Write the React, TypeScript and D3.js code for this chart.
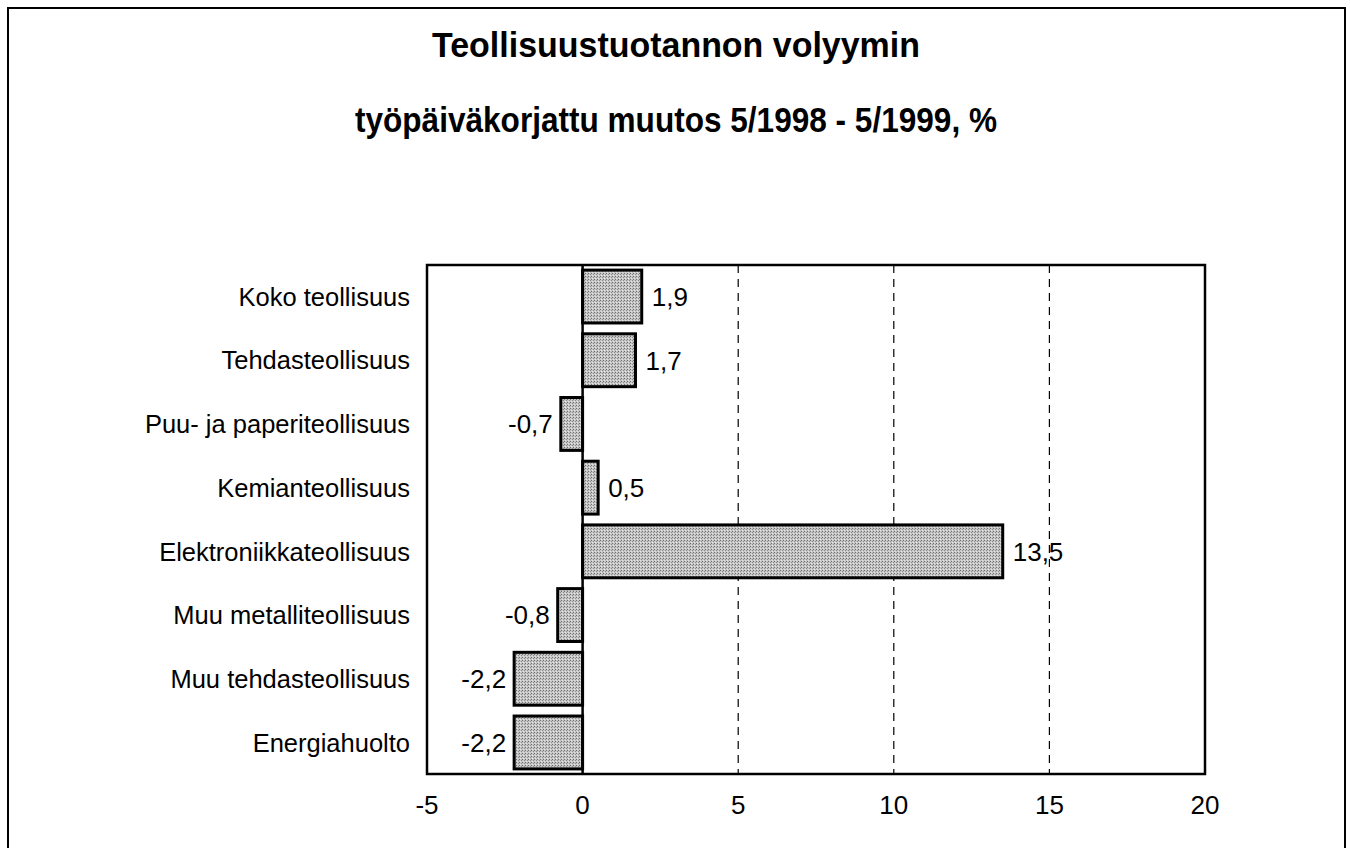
import { useEffect, useRef } from 'react';
import * as d3 from 'd3';

const WIDTH = 1350;
const HEIGHT = 848;

const categories = [
  'Koko teollisuus',
  'Tehdasteollisuus',
  'Puu- ja paperiteollisuus',
  'Kemianteollisuus',
  'Elektroniikkateollisuus',
  'Muu metalliteollisuus',
  'Muu tehdasteollisuus',
  'Energiahuolto',
];
const values = [1.9, 1.7, -0.7, 0.5, 13.5, -0.8, -2.2, -2.2];
const xTicks = [-5, 0, 5, 10, 15, 20];
const gridTicks = [5, 10, 15];
const titleLines = [
  'Teollisuustuotannon volyymin',
  'työpäiväkorjattu muutos 5/1998 - 5/1999, %',
];
const titleWidths = [488, 642]; // measured widths of the narrow bold face

const PLOT = { left: 427, right: 1205, top: 265, bottom: 774 };
const FONT = '"Liberation Sans", Arial, sans-serif';

const fmt = (v: number) => String(v).replace('.', ',');

function draw(svgEl: SVGSVGElement) {
  const svg = d3.select(svgEl);
  svg.selectAll('*').remove();

  const x = d3.scaleLinear().domain([-5, 20]).range([PLOT.left, PLOT.right]);
  const y = d3
    .scaleBand<string>()
    .domain(categories)
    .range([PLOT.top, PLOT.bottom])
    .paddingInner(0.17)
    .paddingOuter(0.08);

  // stippled grey fill like the scanned print
  const pat = svg
    .append('defs')
    .append('pattern')
    .attr('id', 'stipple')
    .attr('width', 3)
    .attr('height', 3)
    .attr('patternUnits', 'userSpaceOnUse');
  pat.append('rect').attr('width', 3).attr('height', 3).attr('fill', '#c6c6c6');
  pat.append('rect').attr('x', 0).attr('y', 0).attr('width', 1).attr('height', 1).attr('fill', '#6e6e6e');
  pat.append('rect').attr('x', 2).attr('y', 1).attr('width', 1).attr('height', 1).attr('fill', '#8c8c8c');
  pat.append('rect').attr('x', 1).attr('y', 2).attr('width', 1).attr('height', 1).attr('fill', '#e4e4e4');

  svg.append('rect').attr('width', WIDTH).attr('height', HEIGHT).attr('fill', '#fff');

  // outer frame (bottom edge runs off the page)
  svg
    .append('rect')
    .attr('x', 8)
    .attr('y', 8)
    .attr('width', 1337)
    .attr('height', 860)
    .attr('fill', 'none')
    .attr('stroke', '#000')
    .attr('stroke-width', 2);

  svg
    .append('g')
    .selectAll('text')
    .data(titleLines)
    .join('text')
    .attr('x', 676)
    .attr('y', (_, i) => 57 + i * 75)
    .attr('text-anchor', 'middle')
    .attr('font-family', FONT)
    .attr('font-weight', 'bold')
    .attr('font-size', 35)
    .attr('textLength', (_, i) => titleWidths[i])
    .attr('lengthAdjust', 'spacingAndGlyphs')
    .text((d) => d);

  // dashed gridlines
  svg
    .append('g')
    .selectAll('line')
    .data(gridTicks)
    .join('line')
    .attr('x1', (d) => x(d))
    .attr('x2', (d) => x(d))
    .attr('y1', PLOT.top)
    .attr('y2', PLOT.bottom)
    .attr('stroke', '#000')
    .attr('stroke-width', 1.2)
    .attr('stroke-dasharray', '8,6');

  svg
    .append('g')
    .selectAll('rect')
    .data(values)
    .join('rect')
    .attr('x', (d) => x(Math.min(0, d)))
    .attr('y', (_, i) => y(categories[i]) ?? 0)
    .attr('width', (d) => Math.abs(x(d) - x(0)))
    .attr('height', y.bandwidth())
    .attr('fill', 'url(#stipple)')
    .attr('stroke', '#000')
    .attr('stroke-width', 3);

  // zero line
  svg
    .append('line')
    .attr('x1', x(0))
    .attr('x2', x(0))
    .attr('y1', PLOT.top)
    .attr('y2', PLOT.bottom)
    .attr('stroke', '#000')
    .attr('stroke-width', 2.5);

  svg
    .append('rect')
    .attr('x', PLOT.left)
    .attr('y', PLOT.top)
    .attr('width', PLOT.right - PLOT.left)
    .attr('height', PLOT.bottom - PLOT.top)
    .attr('fill', 'none')
    .attr('stroke', '#000')
    .attr('stroke-width', 2.5);

  // value labels
  svg
    .append('g')
    .selectAll('text')
    .data(values)
    .join('text')
    .attr('x', (d) => (d >= 0 ? x(d) + 10 : x(d) - 8))
    .attr('y', (_, i) => (y(categories[i]) ?? 0) + y.bandwidth() / 2)
    .attr('dy', '0.36em')
    .attr('text-anchor', (d) => (d >= 0 ? 'start' : 'end'))
    .attr('font-family', FONT)
    .attr('font-size', 26)
    .text((d) => fmt(d));

  // category labels
  svg
    .append('g')
    .selectAll('text')
    .data(categories)
    .join('text')
    .attr('x', 410)
    .attr('y', (d) => (y(d) ?? 0) + y.bandwidth() / 2)
    .attr('dy', '0.36em')
    .attr('text-anchor', 'end')
    .attr('font-family', FONT)
    .attr('font-size', 25.5)
    .text((d) => d);

  // x tick labels
  svg
    .append('g')
    .selectAll('text')
    .data(xTicks)
    .join('text')
    .attr('x', (d) => x(d))
    .attr('y', PLOT.bottom + 31)
    .attr('dy', '0.36em')
    .attr('text-anchor', 'middle')
    .attr('font-family', FONT)
    .attr('font-size', 26)
    .text((d) => String(d));
}

export default function App() {
  const svgRef = useRef<SVGSVGElement>(null);

  useEffect(() => {
    if (!svgRef.current) return;
    draw(svgRef.current);
  }, []);

  return (
    <svg
      ref={svgRef}
      width={WIDTH}
      height={HEIGHT}
      style={{ position: 'absolute', left: 0, top: 0, display: 'block' }}
    />
  );
}
